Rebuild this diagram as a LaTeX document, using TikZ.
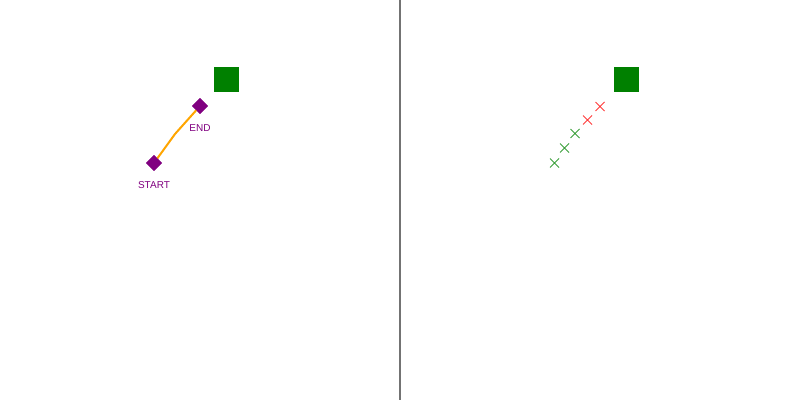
\documentclass[tikz,border=0pt]{standalone}
\usepackage{fontspec}
\setsansfont{Liberation Sans}
\usepackage{xcolor}
\usepackage{tikz}
\usetikzlibrary{shapes.geometric,shapes.misc}

\definecolor{goalgreen}{RGB}{0,128,0}
\definecolor{markpurple}{RGB}{128,0,128}
\definecolor{pathorange}{RGB}{255,165,0}
\definecolor{hitred}{RGB}{255,60,60}
\definecolor{hitgreen}{RGB}{60,160,60}

\begin{document}
\begin{tikzpicture}[
  x=1pt, y=-1pt,
  goal/.style={rectangle, fill=goalgreen, minimum size=25pt, inner sep=0pt},
  marker/.style={diamond, fill=markpurple, minimum size=16pt, inner sep=0pt},
  tag/.style={font=\sffamily\fontsize{10}{12}\selectfont, text=markpurple},
  cross/.style={cross out, draw, line width=1pt, minimum size=8pt, inner sep=0pt}
]
  \useasboundingbox (0,0) rectangle (800,400);
  % divider
  \coordinate (top) at (400,0);
  \coordinate (bottom) at (400,400);
  \draw[gray!110, line width=1.3pt] (top) -- (bottom);

  % left panel
  \node[goal] (goalL) at (226.5,79) {};
  \node[marker] (start) at (154,163) {};
  \node[marker] (end) at (200,106) {};
  \coordinate (bend) at (175,134);
  \draw[pathorange, line width=2pt] (start.center) -- (bend) -- (end.center);
  \node[marker] at (start) {};
  \node[marker] at (end) {};
  \node[tag] (startlbl) at (154,185) {START};
  \node[tag] (endlbl) at (200,128) {END};

  % right panel
  \node[goal] (goalR) at (626.5,79) {};
  \node[cross, hitred] (h1) at (600,106.5) {};
  \node[cross, hitred] (h2) at (587.5,120) {};
  \node[cross, hitgreen] (h3) at (575,133.5) {};
  \node[cross, hitgreen] (h4) at (564.5,148) {};
  \node[cross, hitgreen] (h5) at (554.5,163) {};
\end{tikzpicture}
\end{document}
